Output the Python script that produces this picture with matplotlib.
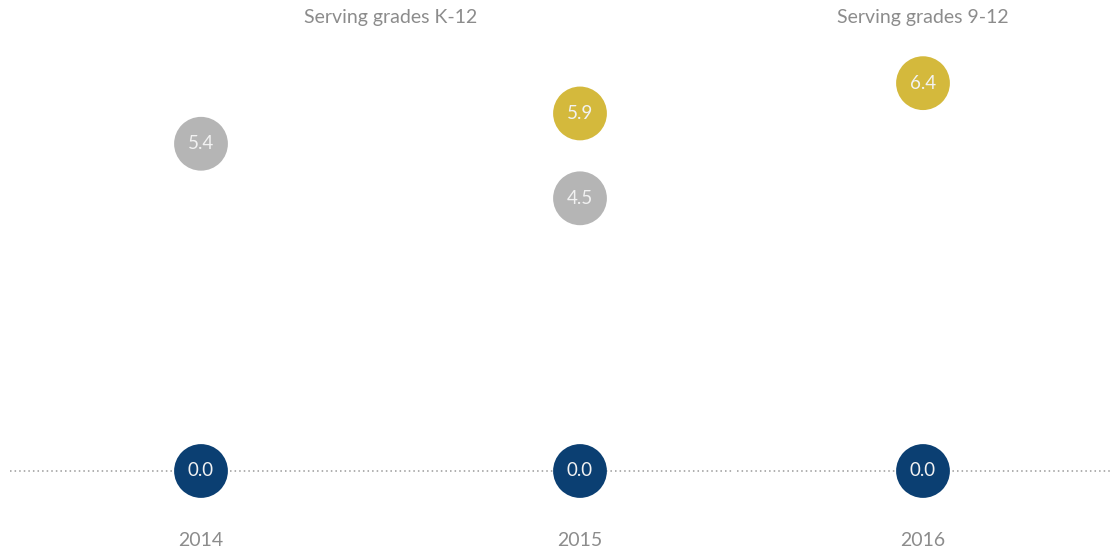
import numpy as np
import matplotlib.pyplot as plt
import matplotlib.transforms as mtransforms

plt.rcParams['font.family'] = ['Lato', 'DejaVu Sans']

# data
panels = ['Serving grades K-12', 'Serving grades 9-12']
panel_years = [['2014', '2015'], ['2016']]
grey_vals = [[5.4, 4.5], [None]]
gold_vals = [[None, 5.9], [6.4]]
navy_vals = [[0.0, 0.0], [0.0]]

c_grey = '#b5b5b5'
c_gold = '#d4b93c'
c_navy = '#0b3f72'
c_text = '#8c8c8c'

W, H = 1110, 554
fig = plt.figure(figsize=(W / 100, H / 100), dpi=100)

px_unit = 379.0      # pixels between category slots
y0_px = 471.0        # pixel row of value 0
py_unit = 60.6       # pixels per value unit

# axes spans in pixels (left, right) and first category centre
spans = [(10, 733, 201), (737, 1110, 923)]

for p, (l, r, c0) in enumerate(spans):
    ax = fig.add_axes([l / W, 0, (r - l) / W, 1])
    ax.set_xlim(-(c0 - l) / px_unit, (r - c0) / px_unit)
    ax.set_ylim(-(H - y0_px) / py_unit, y0_px / py_unit)
    ax.axis('off')

    ax.axhline(0, color='#9a9a9a', lw=1.1, ls=(0, (1, 2)), zorder=1)

    xs = np.arange(len(panel_years[p]))
    for vals, col in [(grey_vals[p], c_grey), (gold_vals[p], c_gold), (navy_vals[p], c_navy)]:
        for x, v in zip(xs, vals):
            if v is None:
                continue
            ax.scatter(x, v, s=1500, color=col, edgecolors='none', zorder=3)
            ax.text(x, v, f'{v:.1f}', ha='center', va='center', color='#f2f2f2',
                    fontsize=13.5, zorder=4)

    for x, yr in zip(xs, panel_years[p]):
        ax.text(x, -(540 - y0_px) / py_unit, yr, ha='center', va='center',
                color=c_text, fontsize=14)

    trans = mtransforms.blended_transform_factory(ax.transData, ax.transAxes)
    ax.text(xs.mean(), 1 - 17 / H, panels[p], transform=trans, ha='center',
            va='center', color=c_text, fontsize=14)

fig.savefig('out.png', dpi=100)
